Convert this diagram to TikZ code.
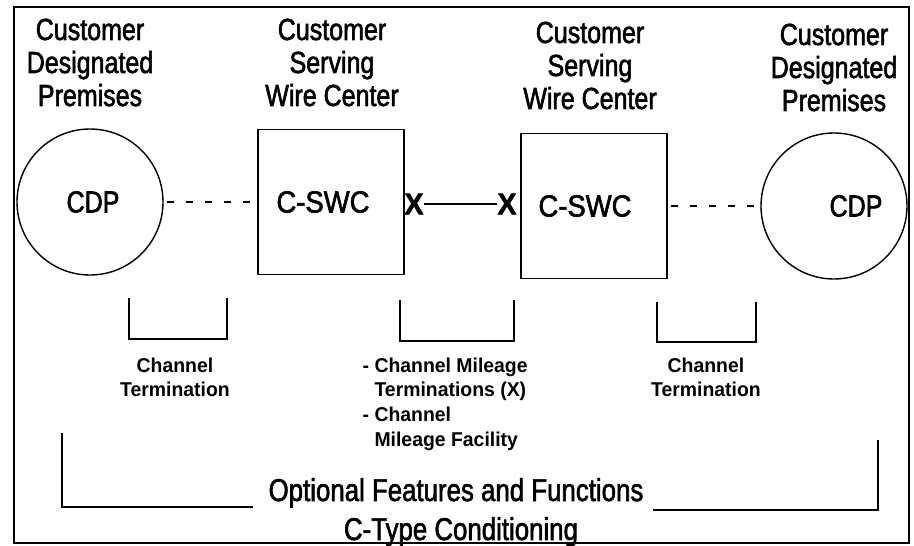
\documentclass[tikz,border=0pt]{standalone}
\usepackage{fontspec}
\setmainfont{Liberation Sans}[FakeStretch=0.82,FakeBold=1.8]
\newfontfamily\boxfont{Liberation Sans}[FakeStretch=0.9,FakeBold=1.8]
\newfontfamily\notefont{Liberation Sans}[FakeStretch=0.97]
\newfontfamily\crossfont{Liberation Sans Bold}[FakeStretch=0.95,FakeBold=1.5]
\usepackage{tikz}

\begin{document}
\begin{tikzpicture}[x=1pt,y=-1pt,line width=1.4pt,
    every node/.style={inner sep=0pt},
    big/.style={font=\fontsize{30.5}{33}\selectfont,align=center},
    note/.style={font=\notefont\bfseries\fontsize{20}{24.7}\selectfont,align=center},
    site/.style={draw,circle,minimum size=146pt},
    office/.style={draw,minimum width=146pt,minimum height=145pt},
    xmark/.style={font=\crossfont\fontsize{30}{30}\selectfont}]
    \useasboundingbox (0,0) rectangle (914,546);

    % Frame
    \draw[line width=2pt] (14,7) rectangle (909,543);

    % Headings
    \node[big,anchor=north] (hdL) at (90,18) {Customer\\Designated\\Premises};
    \node[big,anchor=north] (hsL) at (332,18) {Customer\\Serving\\Wire Center};
    \node[big,anchor=north] (hsR) at (590,21) {Customer\\Serving\\Wire Center};
    \node[big,anchor=north] (hdR) at (834,23) {Customer\\Designated\\Premises};

    % Premises and wire centers
    \node[site,label={[big,xshift=3pt]center:CDP}] (cdpL) at (90,202) {};
    \node[office,label={[big,font=\boxfont\fontsize{30.5}{33}\selectfont,xshift=-8pt]center:C-SWC}] (swcL) at (331,202) {};
    \node[office,label={[big,font=\boxfont\fontsize{30.5}{33}\selectfont,xshift=-9pt]center:C-SWC}] (swcR) at (594,206) {};
    \node[site,label={[big,xshift=22pt]center:CDP}] (cdpR) at (834,206) {};

    % Local loops and mileage
    \draw[dash pattern=on 7pt off 12pt,shorten <=3pt] (cdpL) -- (swcL);
    \draw[dash pattern=on 7pt off 12pt,shorten <=3pt] (swcR) -- (cdpR);
    \node[xmark] (xL) at (414,204) {X};
    \node[xmark] (xR) at (507,204) {X};
    \draw[line width=1.1pt] (xL) -- (xR);

    % Brackets for the rate elements
    \foreach \l/\r/\t/\b in {129/227/298/339, 400/514/300/341, 657/756/302/342}
        \draw (\l,\t) |- (\r,\b) -- (\r,\t);

    \node[note,anchor=north] (ctL) at (175,357) {Channel\\Termination};
    \node[note,anchor=north west,align=left] (cm) at (362,357)
        {- Channel Mileage\\\phantom{- }Terminations (X)\\- Channel\\\phantom{- }Mileage Facility};
    \node[note,anchor=north] (ctR) at (706,357) {Channel\\Termination};

    % Optional features
    \node[big,anchor=base,font=\fontsize{31.5}{33}\selectfont] (opt) at (456,501) {Optional Features and Functions};
    \node[big,anchor=base,font=\fontsize{31.5}{33}\selectfont] (ctc) at (461,540) {C-Type Conditioning};
    \draw (62,433) |- (253,507);
    \draw (653,510) -| (878,440);
\end{tikzpicture}
\end{document}
